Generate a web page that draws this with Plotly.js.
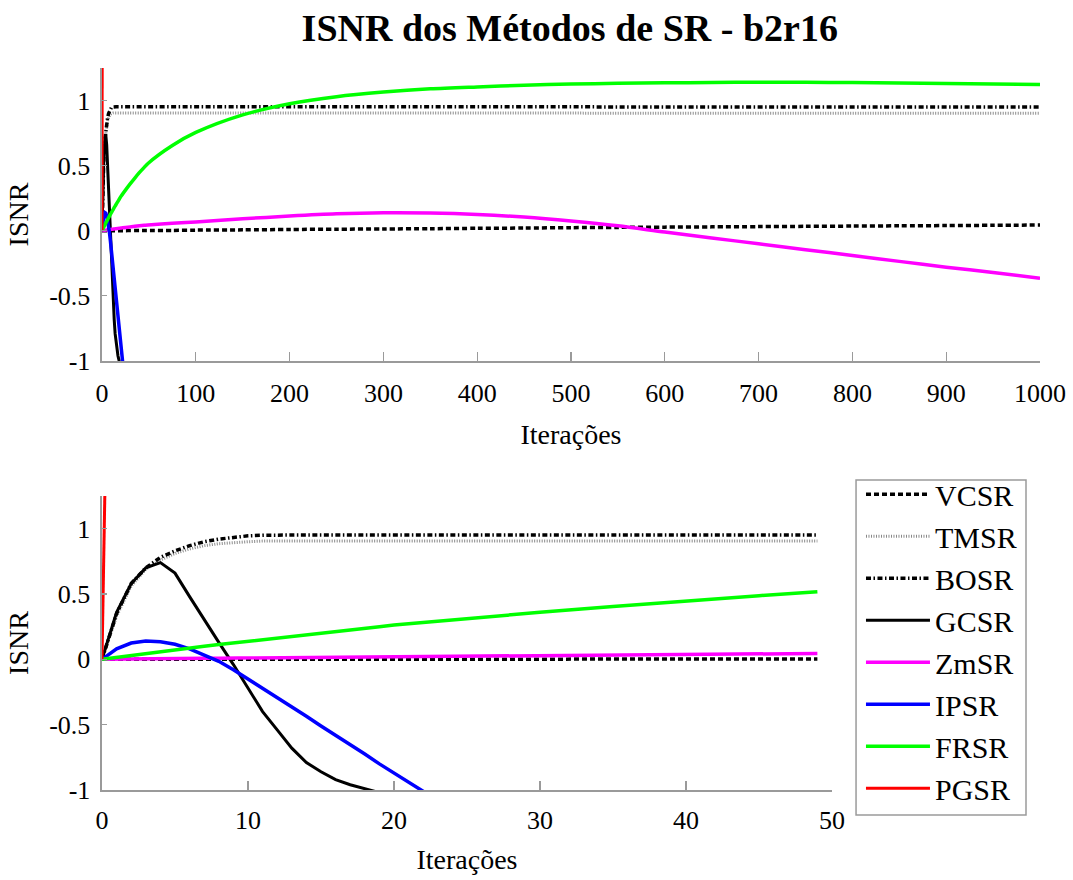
<!DOCTYPE html>
<html><head><meta charset="utf-8">
<script src="https://cdn.plot.ly/plotly-3.0.1.min.js"></script>
<style>html,body{margin:0;padding:0;background:#fff}</style>
</head><body><div id="chart" style="width:1073px;height:880px"></div>
<script>
// Iteration numbers at which values were read
const iterations = [0,1,2,3,4,5,6,7,8,9,10,11,12,13,14,15,16,17,18,19,20,25,30,35,40,45,49,75,100,150,200,250,300,350,400,450,500,550,600,650,700,750,800,850,900,950,1000];
const methodNames = ["VCSR","TMSR","BOSR","GCSR","ZmSR","IPSR","FRSR","PGSR"];
const vcsr = [0,0,0,0,0,0,0,0,0,0,0.001,0.001,0.001,0.001,0.001,0.001,0.001,0.001,0.001,0.001,0.001,0.001,0.0015,0.0015,0.002,0.002,0.0025,0.003,0.005,0.007,0.01,0.012,0.014,0.016,0.019,0.021,0.024,0.026,0.028,0.03,0.032,0.034,0.036,0.038,0.04,0.042,0.044];
const tmsr = [0,0.33,0.56,0.69,0.76,0.81,0.845,0.87,0.885,0.895,0.9,0.905,0.905,0.905,0.905,0.905,0.905,0.905,0.905,0.905,0.905,0.905,0.905,0.905,0.905,0.905,0.905,0.905,0.904,0.903,0.903,0.902,0.902,0.902,0.902,0.902,0.902,0.902,0.902,0.902,0.902,0.902,0.902,0.902,0.902,0.902,0.902];
const bosr = [0,0.35,0.58,0.70,0.78,0.83,0.87,0.90,0.92,0.935,0.945,0.95,0.952,0.952,0.952,0.952,0.952,0.952,0.952,0.952,0.952,0.952,0.952,0.952,0.952,0.952,0.952,0.952,0.952,0.952,0.951,0.951,0.951,0.951,0.951,0.951,0.951,0.951,0.951,0.951,0.951,0.951,0.951,0.951,0.951,0.951,0.951];
const gcsr = [0,0.36,0.58,0.70,0.74,0.66,0.48,0.30,0.13,-0.04,-0.22,-0.40,-0.54,-0.68,-0.79,-0.86,-0.92,-0.96,-0.99,-1.02,-1.05];
const zmsr = [0,0.002,0.003,0.004,0.005,0.006,0.007,0.008,0.009,0.01,0.011,0.012,0.013,0.014,0.015,0.016,0.017,0.018,0.019,0.02,0.021,0.025,0.03,0.034,0.038,0.042,0.045,0.057,0.068,0.092,0.113,0.13,0.138,0.136,0.125,0.105,0.075,0.038,-0.01,-0.055,-0.10,-0.145,-0.19,-0.235,-0.28,-0.32,-0.365];
const ipsr = [0,0.08,0.125,0.14,0.135,0.115,0.08,0.035,-0.015,-0.08,-0.15,-0.22,-0.29,-0.36,-0.435,-0.51,-0.58,-0.655,-0.725,-0.80,-0.87,-1.22];
const frsr = [0,0.015,0.03,0.044,0.058,0.072,0.086,0.1,0.113,0.126,0.139,0.152,0.165,0.178,0.19,0.202,0.214,0.226,0.238,0.25,0.262,0.312,0.36,0.405,0.448,0.487,0.517,0.655,0.755,0.89,0.975,1.03,1.065,1.09,1.105,1.118,1.127,1.132,1.136,1.139,1.14,1.14,1.138,1.135,1.131,1.128,1.124];
const pgsr = [0,6.5,13];
const yTickValues = [-1,-0.5,0,0.5,1];
const yTickLabels = ["-1","-0.5","0","0.5","1"];
const topXTicks = [0,100,200,300,400,500,600,700,800,900,1000];
const bottomXTicks = [0,10,20,30,40,50];
const zoomLimit = 49;

const seriesValues = [vcsr,tmsr,bosr,gcsr,zmsr,ipsr,frsr,pgsr];
const styles = [
  {color:'#000000', width:3.5, dash:'5px,3px'},
  {color:'#8a8a8a', width:3, dash:'1px,1.5px'},
  {color:'#000000', width:3.5, dash:'5px,2.5px,1.5px,2.5px'},
  {color:'#000000', width:3, dash:'solid'},
  {color:'#ff00ff', width:3.5, dash:'solid'},
  {color:'#0000ff', width:3.5, dash:'solid'},
  {color:'#00ff00', width:3.5, dash:'solid'},
  {color:'#ff0000', width:3, dash:'solid'}
];
const smoothTop = [true,false,false,false,true,false,true,false];

const traces = [];
methodNames.forEach((name, i) => {
  const ys = seriesValues[i];
  const xs = iterations.slice(0, ys.length);
  const topLine = Object.assign({}, styles[i], smoothTop[i] ? {shape:'spline', smoothing:0.8} : {});
  traces.push({x: xs, y: ys, type:'scatter', mode:'lines', name:name, line:topLine,
    xaxis:'x', yaxis:'y', showlegend:false, legendgroup:name, hoverinfo:'skip'});
  const xb = [], yb = [];
  xs.forEach((v, k) => { if (v <= zoomLimit) { xb.push(v); yb.push(ys[k]); } });
  traces.push({x: xb, y: yb, type:'scatter', mode:'lines', name:name, line:styles[i],
    xaxis:'x2', yaxis:'y2', showlegend:true, legendgroup:name, hoverinfo:'skip'});
});

const FONT = "'Liberation Serif', 'Times New Roman', serif";
const axisCommon = {
  showgrid:false, zeroline:false, showline:true, linecolor:'#9a9a9a', linewidth:1.5,
  ticks:'inside', tickcolor:'#9a9a9a', tickwidth:1.2, mirror:false,
  tickfont:{family:FONT, size:26, color:'#000'}, automargin:false
};
const layout = {
  width:1073, height:880,
  margin:{l:0, r:0, t:0, b:0},
  paper_bgcolor:'#fff', plot_bgcolor:'#fff',
  font:{family:FONT, color:'#000'},
  title:{text:'<b>ISNR dos Métodos de SR - b2r16</b>', font:{family:FONT, size:38, color:'#000'},
    x:0.531, xanchor:'center', y:0.968, yanchor:'middle'},
  xaxis: Object.assign({}, axisCommon, {domain:[0.09506,0.96924], range:[0,1000], anchor:'y',
    tickvals:topXTicks, ticklen:9, ticklabelstandoff:8,
    title:{text:'Iterações', font:{family:FONT, size:28}, standoff:17}}),
  yaxis: Object.assign({}, axisCommon, {domain:[0.58977,0.92273], range:[-1,1.25], anchor:'x',
    tickvals:yTickValues, ticktext:yTickLabels, ticklen:5, ticklabelstandoff:5,
    title:{text:'ISNR', font:{family:FONT, size:28}, standoff:12}}),
  xaxis2: Object.assign({}, axisCommon, {domain:[0.09506,0.77539], range:[0,50], anchor:'y2',
    tickvals:bottomXTicks, ticklen:9, ticklabelstandoff:6,
    title:{text:'Iterações', font:{family:FONT, size:28}, standoff:15}}),
  yaxis2: Object.assign({}, axisCommon, {domain:[0.10227,0.43636], range:[-1,1.25], anchor:'x2',
    tickvals:yTickValues, ticktext:yTickLabels, ticklen:5, ticklabelstandoff:5,
    title:{text:'ISNR', font:{family:FONT, size:28}, standoff:12}}),
  legend:{x:0.8024, y:0.468, xanchor:'left', yanchor:'top', bgcolor:'rgba(0,0,0,0)',
    borderwidth:0, font:{family:FONT, size:30, color:'#000'},
    itemwidth:64, tracegroupgap:0},
  shapes:[{type:'rect', xref:'paper', yref:'paper', x0:0.7978, x1:0.9562, y0:0.0739, y1:0.4545,
    line:{color:'#9a9a9a', width:1.5}, fillcolor:'rgba(0,0,0,0)', layer:'below'}],
  showlegend:true
};
Plotly.newPlot('chart', traces, layout, {staticPlot:true, displayModeBar:false});
</script>
</body></html>
